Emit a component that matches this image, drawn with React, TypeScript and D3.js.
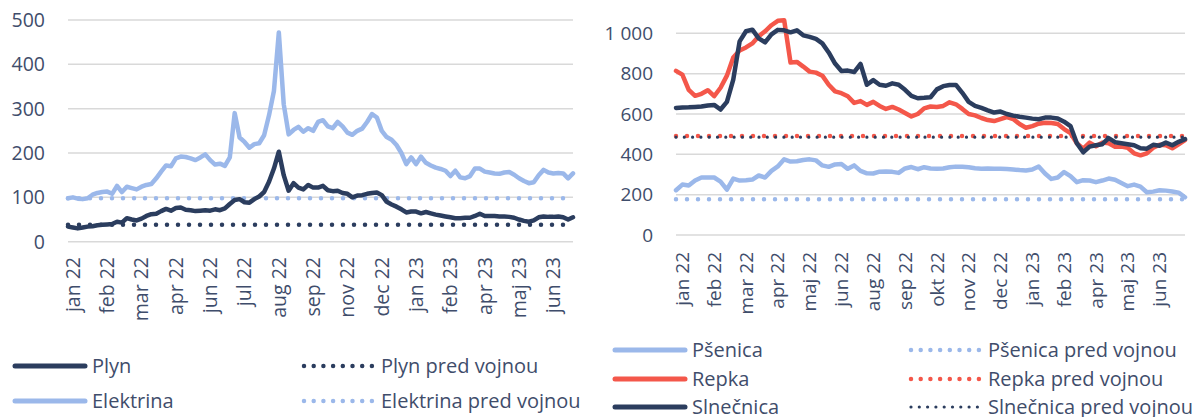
import React from 'react';
import * as d3 from 'd3';

// ---------- Left chart data ----------
const leftLabels = ['jan 22','feb 22','mar 22','apr 22','jun 22','jul 22','aug 22','sep 22','nov 22','dec 22','jan 23','feb 23','apr 23','maj 23','jun 23'];
const leftLabelStart = 1;
const leftLabelEvery = 7;
const leftYTicks = [0, 100, 200, 300, 400, 500];

const elektrina = [
  98,100,97,96,98,106,110,112,113,108,126,112,124,121,118,124,128,130,143,158,
  172,170,188,192,191,188,184,190,197,184,174,176,171,190,290,235,225,212,220,222,
  240,285,340,472,310,242,252,259,248,256,250,270,274,260,256,270,260,246,241,250,
  255,270,288,280,250,236,230,218,200,175,190,175,192,178,172,167,164,160,148,160,
  145,143,148,165,165,158,156,154,153,156,157,151,143,137,132,134,150,162,156,154,
  155,154,143,154
];
const plyn = [
  34,32,30,32,34,35,37,38,39,40,45,43,53,50,48,52,58,62,63,69,
  74,70,76,77,72,71,69,70,71,70,73,71,75,85,94,96,89,88,96,102,
  112,135,165,203,150,115,132,122,118,128,122,122,126,116,114,115,110,108,100,104,
  105,108,110,111,105,90,84,79,73,66,68,68,64,67,64,61,59,57,55,53,
  53,54,54,58,63,58,58,58,57,57,56,54,50,47,45,48,55,57,56,56,
  57,55,50,55
];
const plynPred = 38;
const elektrinaPred = 98;

// ---------- Right chart data ----------
const rightLabels = ['jan 22','feb 22','mar 22','apr 22','maj 22','jun 22','aug 22','sep 22','okt 22','nov 22','dec 22','jan 23','feb 23','apr 23','maj 23','jun 23'];
const rightLabelStart = 1;
const rightLabelEvery = 5;
const rightYTicks = [0, 200, 400, 600, 800, 1000];

const psenica = [
  222,250,245,270,285,285,285,265,225,280,270,272,275,295,285,318,340,375,364,366,
  372,375,370,345,338,350,352,328,345,318,306,305,314,315,313,308,330,337,326,336,
  330,329,330,336,339,338,336,331,329,330,329,328,327,325,322,320,325,340,305,278,
  285,312,292,262,272,270,262,270,280,274,258,242,250,240,212,215,222,220,216,210,
  187
];
const repka = [
  814,795,720,690,700,718,688,730,790,880,915,930,950,985,1010,1040,1062,1065,855,858,
  835,810,805,790,745,712,703,688,655,664,645,660,640,625,635,622,605,588,600,628,
  637,635,640,658,648,625,600,593,580,570,565,575,585,575,550,532,540,552,557,555,
  550,525,505,455,428,458,440,458,455,438,438,432,405,395,405,432,448,445,430,450,
  470
];
const slnecnica = [
  630,632,633,635,637,642,645,622,660,770,960,1010,1018,975,955,995,1017,1015,1005,1015,
  990,982,972,950,905,850,813,815,808,848,745,768,745,740,752,745,720,690,678,680,
  683,722,738,744,744,705,660,640,630,618,607,612,600,592,586,582,577,574,582,582,
  578,562,540,455,410,438,445,450,480,460,455,450,445,430,428,447,443,458,445,462,
  475
];
const psenicaPred = 177;
const repkaPred = 491;
const slnecnicaPred = 485;

// ---------- styling ----------
const FONT = "'Open Sans', sans-serif";
const TEXT = '#3f4d6b';
const GRID = '#d9d9d9';
const NAVY = '#2b3d5e';
const LIGHT = '#9bb8ea';
const RED = '#f4574a';

const fmtThousands = (v: number) => d3.format(',')(v).replace(/,/g, ' ');

type Series = { values: number[]; color: string };
type Ref = { value: number; color: string; width: number; gap: number };

function Panel(props: {
  x0: number; x1: number; yTop: number; yBottom: number;
  yMax: number; yTicks: number[]; tickX: number; labelY: number; fontSize: number;
  labels: string[]; labelStart: number; labelEvery: number; n: number;
  series: Series[]; refs: Ref[]; fmt: (v: number) => string;
}) {
  const { x0, x1, yTop, yBottom, yMax, yTicks, tickX, labelY, fontSize, labels, labelStart, labelEvery, n, series, refs, fmt } = props;
  const x = d3.scaleLinear().domain([0, n - 1]).range([x0, x1]);
  const y = d3.scaleLinear().domain([0, yMax]).range([yBottom, yTop]);
  const line = d3.line<number>().x((_, i) => x(i)).y((d) => y(d));
  return (
    <g>
      {yTicks.map((t) => (
        <g key={t}>
          <line x1={x0} x2={x1} y1={y(t)} y2={y(t)} stroke={GRID} strokeWidth={1.5} />
          <text x={tickX} y={y(t)} dy="0.35em" textAnchor="end" fontSize={fontSize} fill={TEXT} fontFamily={FONT}>{fmt(t)}</text>
        </g>
      ))}
      {labels.map((l, k) => {
        const xi = x(labelStart + k * labelEvery);
        return (
          <text key={l + k} transform={`translate(${xi},${labelY}) rotate(-90)`} textAnchor="end" dy="0.35em"
            fontSize={fontSize} fill={TEXT} fontFamily={FONT}>{l}</text>
        );
      })}
      {refs.map((r, k) => (
        <line key={k} x1={x0} x2={x1} y1={y(r.value)} y2={y(r.value)} stroke={r.color}
          strokeWidth={r.width} strokeDasharray={`0 ${r.gap}`} strokeLinecap="round" />
      ))}
      {series.map((s, k) => (
        <path key={k} d={line(s.values) || ''} fill="none" stroke={s.color} strokeWidth={4.5}
          strokeLinejoin="round" strokeLinecap="round" />
      ))}
    </g>
  );
}

function LegendItem(props: { x: number; y: number; color: string; label: string; dotted?: boolean; width?: number; gap?: number }) {
  const { x, y, color, label, dotted, width, gap } = props;
  return (
    <g>
      <line x1={x} x2={x + 70} y1={y} y2={y} stroke={color} strokeWidth={dotted ? (width || 4) : 5}
        strokeLinecap="round" strokeDasharray={dotted ? `0 ${gap || 9.7}` : undefined} />
      <text x={x + 77} y={y} dy="0.35em" fontSize={20} fill={TEXT} fontFamily={FONT}>{label}</text>
    </g>
  );
}

export default function App() {
  return (
    <svg width={1204} height={417} style={{ position: 'absolute', left: 0, top: 0, background: '#fff' }}>
      <Panel x0={68} x1={573} yTop={20} yBottom={241.7} yMax={500} yTicks={leftYTicks} tickX={45} labelY={257} fontSize={19.5}
        labels={leftLabels} labelStart={leftLabelStart} labelEvery={leftLabelEvery} n={elektrina.length}
        series={[{ values: elektrina, color: LIGHT }, { values: plyn, color: NAVY }]}
        refs={[{ value: elektrinaPred, color: LIGHT, width: 4.5, gap: 11 }, { value: plynPred, color: NAVY, width: 4.5, gap: 11 }]}
        fmt={(v) => String(v)} />
      <Panel x0={676} x1={1185} yTop={33.3} yBottom={235} yMax={1000} yTicks={rightYTicks} tickX={653} labelY={252} fontSize={19}
        labels={rightLabels} labelStart={rightLabelStart} labelEvery={rightLabelEvery} n={psenica.length}
        series={[{ values: psenica, color: LIGHT }, { values: repka, color: RED }, { values: slnecnica, color: NAVY }]}
        refs={[{ value: psenicaPred, color: LIGHT, width: 4.5, gap: 11 }, { value: repkaPred, color: RED, width: 4.5, gap: 11 },
          { value: slnecnicaPred, color: NAVY, width: 3.2, gap: 8.3 }]}
        fmt={fmtThousands} />
      <LegendItem x={15} y={366} color={NAVY} label="Plyn" />
      <LegendItem x={15} y={401} color={LIGHT} label="Elektrina" />
      <LegendItem x={304} y={366} color={NAVY} label="Plyn pred vojnou" dotted width={4.5} gap={9.7} />
      <LegendItem x={304} y={401} color={LIGHT} label="Elektrina pred vojnou" dotted width={4.5} gap={9.7} />
      <LegendItem x={615} y={350} color={LIGHT} label="Pšenica" />
      <LegendItem x={615} y={379} color={RED} label="Repka" />
      <LegendItem x={615} y={407} color={NAVY} label="Slnečnica" />
      <LegendItem x={911} y={350} color={LIGHT} label="Pšenica pred vojnou" dotted width={4.5} gap={9.7} />
      <LegendItem x={911} y={379} color={RED} label="Repka pred vojnou" dotted width={4.5} gap={9.7} />
      <LegendItem x={911} y={407} color={NAVY} label="Slnečnica pred vojnou" dotted width={3.2} gap={8.3} />
    </svg>
  );
}
